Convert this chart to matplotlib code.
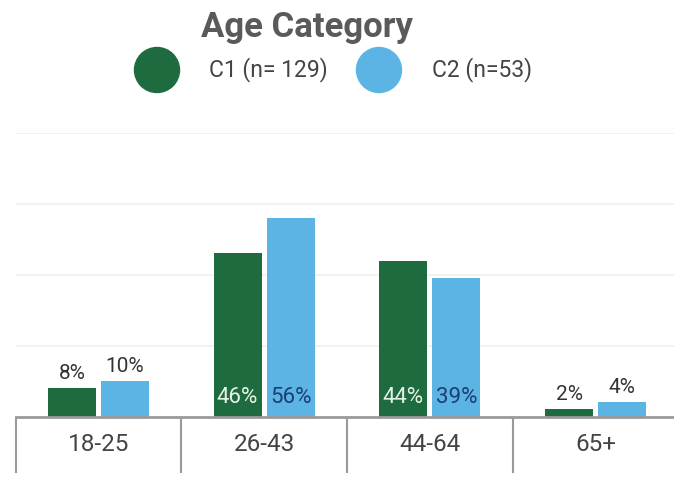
import matplotlib
matplotlib.use("Agg")
import matplotlib.pyplot as plt
from matplotlib.patches import Ellipse
import numpy as np

plt.rcParams['font.family'] = ['Roboto', 'DejaVu Sans']

categories = ["18-25", "26-43", "44-64", "65+"]
c1_values = [8, 46, 44, 2]
c2_values = [10, 56, 39, 4]
series_names = ["C1 (n= 129)", "C2 (n=53)"]
title = "Age Category"

GREEN = "#1f6b40"
BLUE = "#5cb4e5"
W, H = 674, 478

fig = plt.figure(figsize=(W / 100, H / 100), dpi=100)
fig.patch.set_facecolor("white")

# plot area in pixel terms: left 15.5, right 678.5, baseline 416.5, 80% line at 133
left, right, base, top = 15.5, 678.5, 416.5, 133
ax = fig.add_axes([left / W, (H - base) / H, (right - left) / W, (base - top) / H])

x = np.arange(len(categories))
bw = 0.29
off = 0.16
b1 = ax.bar(x - off, c1_values, width=bw, color=GREEN, zorder=3)
b2 = ax.bar(x + off, c2_values, width=bw, color=BLUE, zorder=3)

ax.set_xlim(-0.5, len(categories) - 0.5)
ax.set_ylim(0, 80)

# light horizontal grid
ax.set_yticks([20, 40, 60, 80])
ax.yaxis.grid(True, color="#f0f0f0", linewidth=1.2, zorder=0)
ax.tick_params(axis="y", length=0, labelleft=False)

for s in ["top", "right", "left"]:
    ax.spines[s].set_visible(False)
ax.spines["bottom"].set_color("#9a9a9a")
ax.spines["bottom"].set_linewidth(2)
ax.spines["bottom"].set_zorder(4)

# category labels on major ticks, dividers on minor ticks
ax.set_xticks(x)
ax.set_xticklabels(categories, fontsize=17.5, color="#444444")
ax.tick_params(axis="x", which="major", length=0, pad=12)
ax.set_xticks(np.arange(-0.5, len(categories), 1.0)[:-1], minor=True)
ax.tick_params(axis="x", which="minor", length=40, width=1.5, color="#9a9a9a", direction="out")

# value labels
def put_labels(bars, values, inside_color):
    for rect, v in zip(bars, values):
        cx = rect.get_x() + rect.get_width() / 2
        if v >= 20:
            ax.text(cx, 5.5, f"{v}%", ha="center", va="center", fontsize=16,
                    color=inside_color, zorder=5)
        else:
            ax.annotate(f"{v}%", (cx, v), xytext=(0, 4), textcoords="offset points",
                        ha="center", va="bottom", fontsize=15, color="#333333", zorder=5)

put_labels(b1, c1_values, "#e6f2e6")
put_labels(b2, c2_values, "#1a3f73")

# title and legend
fig.text(307 / W, 1 - 27 / H, title, ha="center", va="center", fontsize=25,
         fontweight="bold", color="#5a5a5a")

def legend_item(cx, tx, color, label):
    e = Ellipse((cx / W, 1 - 70 / H), 45 / W, 45 / H, transform=fig.transFigure,
                color=color)
    fig.add_artist(e)
    fig.text(tx / W, 1 - 70 / H, label, ha="left", va="center", fontsize=16.5,
             color="#444444")

legend_item(157, 209, GREEN, series_names[0])
legend_item(379, 432, BLUE, series_names[1])

fig.savefig("out.png", dpi=100, facecolor="white")
